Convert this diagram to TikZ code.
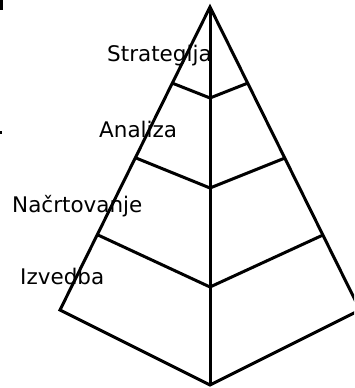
\documentclass[tikz,border=0pt]{standalone}
\usepackage{fontspec}
\setmainfont{DejaVu Sans}
\begin{document}
\begin{tikzpicture}[x=1pt,y=-1pt,
  edge/.style={line width=3pt,line join=miter,black},
  lbl/.style={anchor=base west,inner sep=0pt,font=\fontsize{21.5}{25}\selectfont}]
\useasboundingbox (0,0) rectangle (354,388);
\clip (0,0) rectangle (354,388);
% coordinates
\coordinate (A) at (210,7);
\coordinate (L1) at (172,83);  \coordinate (C1) at (210,98);  \coordinate (R1) at (248,83);
\coordinate (L2) at (136,158); \coordinate (C2) at (210,188); \coordinate (R2) at (285,158);
\coordinate (L3) at (98,235);  \coordinate (C3) at (210,287); \coordinate (R3) at (323,235);
\coordinate (L4) at (60,310);  \coordinate (C4) at (210,385); \coordinate (R4) at (360,310);
% labels
\node[lbl] (s) at (107,61) {Strategija};
\node[lbl] (a) at (99,137) {Analiza};
\node[lbl] (n) at (12,212.5) {Načrtovanje};
\node[lbl] (i) at (20,284.5) {Izvedba};
% pyramid
\draw[edge] (A) -- (L4) -- (C4) -- (R4) -- cycle;
\draw[edge] (A) -- (C4);
\draw[edge] (L1) -- (C1) -- (R1);
\draw[edge] (L2) -- (C2) -- (R2);
\draw[edge] (L3) -- (C3) -- (R3);
% edge marks at left border
\fill[black] (0,0) rectangle (3,10);
\fill[black] (0,131) rectangle (1.5,134);
\end{tikzpicture}
\end{document}
